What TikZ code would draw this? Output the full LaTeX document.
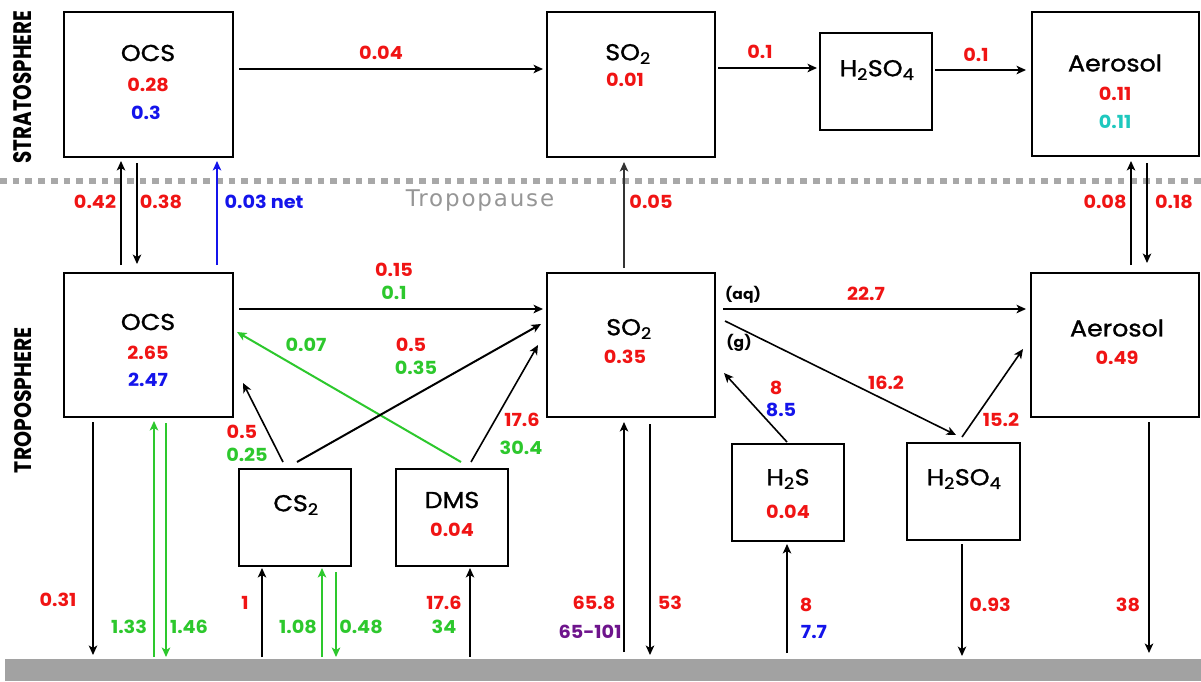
\documentclass[tikz,border=0pt]{standalone}
\usepackage{fontspec}
\usepackage{graphicx}
\setmainfont{Poppins}
\newfontfamily\tpfont[LetterSpace=8]{DejaVu Sans}
\newfontfamily\specfont[FakeBold=1.2,FakeStretch=1.1]{Poppins}
\newfontfamily\numfont[FakeStretch=1.07]{Poppins}
\usetikzlibrary{arrows.meta,calc}
\definecolor{cred}{RGB}{240,20,20}
\definecolor{cblue}{RGB}{20,20,235}
\definecolor{cgreen}{RGB}{45,200,45}
\definecolor{ccyan}{RGB}{30,200,190}
\definecolor{cpurple}{RGB}{110,20,140}
\definecolor{cdots}{RGB}{168,168,168}
\definecolor{cground}{RGB}{162,162,162}
\definecolor{ctp}{RGB}{150,150,150}
\tikzset{
  box/.style={draw, line width=1.6pt, inner sep=0pt, outer sep=0pt, anchor=north west},
  arr/.style={line width=1.6pt, -{Stealth[length=9.5pt,width=8.5pt,inset=2.5pt]}},
  arrthick/.style={arr, line width=2pt},
  num/.style={font=\numfont\fontsize{18}{20}\selectfont\bfseries, inner sep=0pt},
  spec/.style={font=\specfont\fontsize{23}{25}\selectfont, inner sep=0pt},
  small/.style={font=\numfont\fontsize{14.5}{16}\selectfont\bfseries, inner sep=0pt},
  rlab/.style={inner sep=0pt, rotate=90},
}
\begin{document}
\begin{tikzpicture}[x=1pt,y=-1pt]
\fill[white] (0,0) rectangle (1201,681);
\useasboundingbox (0,0) rectangle (1201,681);

% ground
\node[fill=cground, inner sep=0pt, outer sep=0pt, minimum width=1196pt, minimum height=22pt] (ground) at (603,670) {};

% tropopause
\coordinate (tpl) at (0,181);
\coordinate (tpr) at (1201,181);
\draw[cdots, line width=6.5pt, dash pattern=on 6.7pt off 6pt] (tpl) -- (tpr);
\node[inner sep=0pt, text=ctp, font=\tpfont\fontsize{23}{25}\selectfont] (tplab) at (480,201) {Tropopause};

% region labels
\node[rlab] (strat) at (23,87) {\resizebox{153pt}{18pt}{\bfseries STRATOSPHERE}};
\node[rlab] (trop) at (23,400) {\resizebox{146pt}{17pt}{\bfseries TROPOSPHERE}};

% stratosphere boxes
\node[box, minimum width=169pt, minimum height=145pt] (socs) at (64,12) {};
\node[box, minimum width=168pt, minimum height=145pt] (sso2) at (547,12) {};
\node[box, minimum width=112pt, minimum height=97pt] (sh2so4) at (820,33) {};
\node[box, minimum width=167pt, minimum height=144pt] (saer) at (1032,12) {};

% troposphere boxes
\node[box, minimum width=169pt, minimum height=144pt] (tocs) at (64,273) {};
\node[box, minimum width=168pt, minimum height=144pt] (tso2) at (547,273) {};
\node[box, minimum width=168pt, minimum height=144pt] (taer) at (1031,273) {};
\node[box, minimum width=112pt, minimum height=97pt] (cs2) at (239,469) {};
\node[box, minimum width=112pt, minimum height=97pt] (dms) at (396,469) {};
\node[box, minimum width=112pt, minimum height=97pt] (h2s) at (732,444) {};
\node[box, minimum width=113pt, minimum height=97pt] (th2so4) at (907,443) {};

% box texts
\node[spec] (t1) at (148,53) {OCS};
\node[num, text=cred] (t2) at (148,85) {0.28};
\node[num, text=cblue] (t3) at (146,113) {0.3};
\node[spec] (t4) at (628,54) {SO\textsubscript{2}};
\node[num, text=cred] (t5) at (625,80) {0.01};
\node[spec] (t6) at (877,70) {H\textsubscript{2}SO\textsubscript{4}};
\node[spec] (t7) at (1115,63) {Aerosol};
\node[num, text=cred] (t8) at (1115,94) {0.11};
\node[num, text=ccyan] (t9) at (1115,122) {0.11};

\node[spec] (t10) at (148,322) {OCS};
\node[num, text=cred] (t11) at (148,353) {2.65};
\node[num, text=cblue] (t12) at (148,380) {2.47};
\node[spec] (t13) at (629,329) {SO\textsubscript{2}};
\node[num, text=cred] (t14) at (625,357) {0.35};
\node[spec] (t15) at (1117,328) {Aerosol};
\node[num, text=cred] (t16) at (1117,358) {0.49};
\node[spec] (t17) at (296,505) {CS\textsubscript{2}};
\node[spec] (t18) at (452,500) {DMS};
\node[num, text=cred] (t19) at (452,530) {0.04};
\node[spec] (t20) at (788,479) {H\textsubscript{2}S};
\node[num, text=cred] (t21) at (788,512) {0.04};
\node[spec] (t22) at (964,479) {H\textsubscript{2}SO\textsubscript{4}};

% stratospheric arrows
\draw[arr] ($(socs.center)+(90.5,-15.5)$) -- ($(sso2.center)+(-88,-15.5)$);
\node[num, text=cred] (l1) at (381,53) {0.04};
\draw[arr] ($(sso2.center)+(87,-16.5)$) -- ($(sh2so4.center)+(-59,-13.5)$);
\node[num, text=cred] (l2) at (760,52) {0.1};
\draw[arr] ($(sh2so4.center)+(59,-11.5)$) -- ($(saer.center)+(-89.5,-14)$);
\node[num, text=cred] (l3) at (976,55) {0.1};

% strat-trop exchange
\draw[arr] ($(tocs.center)+(-27.5,-80)$) -- ($(socs.center)+(-27.5,76.5)$);
\node[num, text=cred] (l4) at (95,202) {0.42};
\draw[arr, line width=1.2pt] ($(socs.center)+(-11.5,78.5)$) -- ($(tocs.center)+(-11.5,-81)$);
\node[num, text=cred] (l5) at (161,202) {0.38};
\draw[arr, cblue] ($(tocs.center)+(68.5,-80)$) -- ($(socs.center)+(68.5,76.5)$);
\node[num, text=cblue] (l6) at (264,202) {0.03 net};
\draw[arr, line width=1.2pt, black!80] ($(tso2.center)+(-7,-77)$) -- ($(sso2.center)+(-7,77.5)$);
\node[num, text=cred] (l7) at (651,202) {0.05};
\draw[arr] ($(taer.center)+(16,-80)$) -- ($(saer.center)+(15.5,77)$);
\node[num, text=cred] (l8) at (1105,202) {0.08};
\draw[arr, line width=1.2pt] ($(saer.center)+(31.5,79)$) -- ($(taer.center)+(32,-82)$);
\node[num, text=cred] (l9) at (1174,202) {0.18};

% tropospheric arrows
\draw[arrthick] ($(tocs.center)+(90.5,-36)$) -- ($(tso2.center)+(-88,-36)$);
\node[num, text=cred] (l10) at (394,270) {0.15};
\node[num, text=cgreen] (l11) at (394,293) {0.1};
\draw[arrthick, cgreen] ($(dms.center)+(9,-55.5)$) -- ($(tocs.center)+(88.5,-13)$);
\node[num, text=cgreen] (l12) at (306,345) {0.07};
\draw[arr] ($(cs2.center)+(-12,-55.5)$) -- ($(tocs.center)+(94.5,38)$);
\node[num, text=cred] (l13) at (242,432) {0.5};
\node[num, text=cgreen] (l14) at (247,455) {0.25};
\draw[arrthick] ($(cs2.center)+(2,-55.5)$) -- ($(tso2.center)+(-90,-21)$);
\node[num, text=cred] (l15) at (411,345) {0.5};
\node[num, text=cgreen] (l16) at (416,368) {0.35};
\draw[arr] ($(dms.center)+(19,-55.5)$) -- ($(tso2.center)+(-93,0)$);
\node[num, text=cred] (l17) at (522,420) {17.6};
\node[num, text=cgreen] (l18) at (521,448) {30.4};
\draw[arrthick] ($(tso2.center)+(92,-36)$) -- ($(taer.center)+(-89,-36)$);
\node[small] (l19) at (743,295) {(aq)};
\node[num, text=cred] (l20) at (866,294) {22.7};
\draw[arr] ($(tso2.center)+(94,-24)$) -- ($(th2so4.center)+(-7.5,-56.5)$);
\node[small] (l21) at (739,343) {(g)};
\node[num, text=cred] (l22) at (886,383) {16.2};
\draw[arr] ($(h2s.center)+(-1,-50.5)$) -- ($(tso2.center)+(93,28)$);
\node[num, text=cred] (l23) at (776,388) {8};
\node[num, text=cblue] (l24) at (781,410) {8.5};
\draw[arr] ($(th2so4.center)+(-1.5,-54.5)$) -- ($(taer.center)+(-92,4)$);
\node[num, text=cred] (l25) at (1001,420) {15.2};

% surface exchange
\draw[arr] ($(tocs.center)+(-55.5,77)$) -- ($(ground.center)+(-510,-15)$);
\node[num, text=cred] (l26) at (58,600) {0.31};
\draw[arr, cgreen] ($(ground.center)+(-449,-13)$) -- ($(tocs.center)+(5.5,76)$);
\node[num, text=cgreen] (l27) at (129,627) {1.33};
\draw[arr, cgreen] ($(tocs.center)+(17.5,78)$) -- ($(ground.center)+(-437,-13)$);
\node[num, text=cgreen] (l28) at (189,627) {1.46};
\draw[arr] ($(ground.center)+(-341,-13)$) -- ($(cs2.center)+(-33,50.5)$);
\node[num, text=cred] (l29) at (245,603) {1};
\draw[arr, cgreen] ($(ground.center)+(-281,-13)$) -- ($(cs2.center)+(27,50.5)$);
\node[num, text=cgreen] (l30) at (298,627) {1.08};
\draw[arr, cgreen] ($(cs2.center)+(41,54.5)$) -- ($(ground.center)+(-267,-13)$);
\node[num, text=cgreen] (l31) at (361,627) {0.48};
\draw[arr] ($(ground.center)+(-133,-13)$) -- ($(dms.center)+(18,50.5)$);
\node[num, text=cred] (l32) at (444,603) {17.6};
\node[num, text=cgreen] (l33) at (444,627) {34};
\draw[arr] ($(ground.center)+(21,-18)$) -- ($(tso2.center)+(-7,77)$);
\node[num, text=cred] (l34) at (594,603) {65.8};
\node[num, text=cpurple] (l35) at (590,632) {65-101};
\draw[arr] ($(tso2.center)+(19,79)$) -- ($(ground.center)+(47,-15)$);
\node[num, text=cred] (l36) at (670,603) {53};
\draw[arr] ($(ground.center)+(184,-17)$) -- ($(h2s.center)+(-1,51.5)$);
\node[num, text=cred] (l37) at (806,605) {8};
\node[num, text=cblue] (l38) at (814,632) {7.7};
\draw[arr, line width=1.2pt] ($(th2so4.center)+(-1.5,52.5)$) -- ($(ground.center)+(359,-14)$);
\node[num, text=cred] (l39) at (990,605) {0.93};
\draw[arr] ($(taer.center)+(34,77)$) -- ($(ground.center)+(546,-17)$);
\node[num, text=cred] (l40) at (1128,605) {38};
\end{tikzpicture}
\end{document}
